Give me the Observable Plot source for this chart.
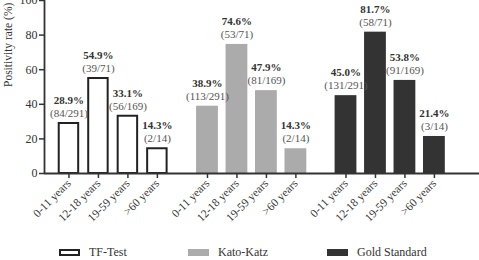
<!DOCTYPE html>
<html>
<head>
<meta charset="utf-8">
<script src="https://cdn.jsdelivr.net/npm/d3@7"></script>
<script src="https://cdn.jsdelivr.net/npm/@observablehq/plot@0.6"></script>
<style>
  body { margin: 0; background: #fff; }
  #chart { position: relative; width: 479px; height: 260px; font-family: "Liberation Serif", "Times New Roman", serif; }
  #chart svg { display: block; }
  .legend { position: absolute; left: 0; top: 244px; width: 479px; height: 16px; }
  .item { position: absolute; top: 0; height: 16px; display: flex; align-items: center; font-size: 12px; color: #333; }
  .sw { width: 21px; height: 7px; box-sizing: border-box; margin-right: 9px; }
</style>
</head>
<body>
<div id="chart"></div>
<script>
// Diagnostic methods and age groups
const methods = ["TF-Test", "Kato-Katz", "Gold Standard"];
const ageGroups = ["0-11 years", "12-18 years", "19-59 years", ">60 years"];

// Positivity rate (%) per age group
const tfRates = [28.9, 54.9, 33.1, 14.3];
const kkRates = [38.9, 74.6, 47.9, 14.3];
const gsRates = [45.0, 81.7, 53.8, 21.4];

// Positive cases / examined per age group
const tfPositive = [84, 39, 56, 2];
const kkPositive = [113, 53, 81, 2];
const gsPositive = [131, 58, 91, 3];
const groupTotals = [291, 71, 169, 14];

const yTicks = [0, 20, 40, 60, 80, 100];

// Bar styling per method
const methodFill = ["#ffffff", "#ababab", "#333333"];
const methodStroke = ["#222222", "none", "none"];
const methodStrokeWidth = [2, 0, 0];
const methodHalfWidth = [0.33, 0.37, 0.37];

// Layout of the clustered bars on a continuous x axis
const groupStep = 4.7;
const xDomain = [-0.83, 13.93];

const rateSeries = [tfRates, kkRates, gsRates];
const positiveSeries = [tfPositive, kkPositive, gsPositive];

const rows = [];
methods.forEach((m, g) => {
  ageGroups.forEach((age, i) => {
    rows.push({
      method: m,
      g,
      age,
      pos: g * groupStep + i,
      rate: rateSeries[g][i],
      pct: rateSeries[g][i].toFixed(1) + "%",
      frac: "(" + positiveSeries[g][i] + "/" + groupTotals[i] + ")"
    });
  });
});

const tickPositions = rows.map(d => d.pos);
const ageAt = new Map(rows.map(d => [d.pos, d.age]));

const barMarks = methods.map((m, g) =>
  Plot.rectY(rows.filter(d => d.g === g), {
    x1: d => d.pos - methodHalfWidth[g],
    x2: d => d.pos + methodHalfWidth[g],
    y: "rate",
    fill: methodFill[g],
    stroke: methodStroke[g],
    strokeWidth: methodStrokeWidth[g]
  })
);

const plot = Plot.plot({
  width: 479,
  height: 238,
  marginLeft: 44,
  marginRight: 0,
  marginTop: 0,
  marginBottom: 65,
  style: {
    fontFamily: '"Liberation Serif", "Times New Roman", serif',
    fontSize: "12px",
    color: "#333",
    background: "transparent"
  },
  x: { type: "linear", domain: xDomain },
  y: { domain: [0, 100] },
  marks: [
    ...barMarks,
    Plot.ruleY([0], { stroke: "#333", strokeWidth: 1.8 }),
    Plot.ruleX([xDomain[0]], { stroke: "#333", strokeWidth: 1.8 }),
    Plot.axisY({
      ticks: yTicks,
      tickSize: 5,
      tickPadding: 2,
      strokeWidth: 1.5,
      fontSize: 12,
      label: null
    }),
    Plot.axisX({
      ticks: tickPositions,
      tickFormat: p => ageAt.get(p),
      tickRotate: -45,
      tickSize: 5,
      tickPadding: 3,
      strokeWidth: 1.5,
      fontSize: 11.5,
      label: null
    }),
    Plot.text(["Positivity rate (%)"], {
      frameAnchor: "left",
      rotate: -90,
      dx: -36,
      fontSize: 11.5,
      fill: "#333"
    }),
    Plot.text(rows, {
      x: "pos", y: "rate", text: "pct",
      dy: -23, fontWeight: "bold", fontSize: 11, fill: "#333"
    }),
    Plot.text(rows, {
      x: "pos", y: "rate", text: "frac",
      dy: -10, fontSize: 11, fill: "#555"
    })
  ]
});

const root = document.getElementById("chart");
root.appendChild(plot);

// Legend below the plot
const legend = document.createElement("div");
legend.className = "legend";
const legendLeft = [59, 188, 327];
methods.forEach((m, g) => {
  const item = document.createElement("div");
  item.className = "item";
  item.style.left = legendLeft[g] + "px";
  const sw = document.createElement("span");
  sw.className = "sw";
  sw.style.background = methodFill[g];
  if (methodStrokeWidth[g]) sw.style.border = "2px solid " + methodStroke[g];
  const label = document.createElement("span");
  label.textContent = m;
  item.appendChild(sw);
  item.appendChild(label);
  legend.appendChild(item);
});
root.appendChild(legend);
</script>
</body>
</html>
